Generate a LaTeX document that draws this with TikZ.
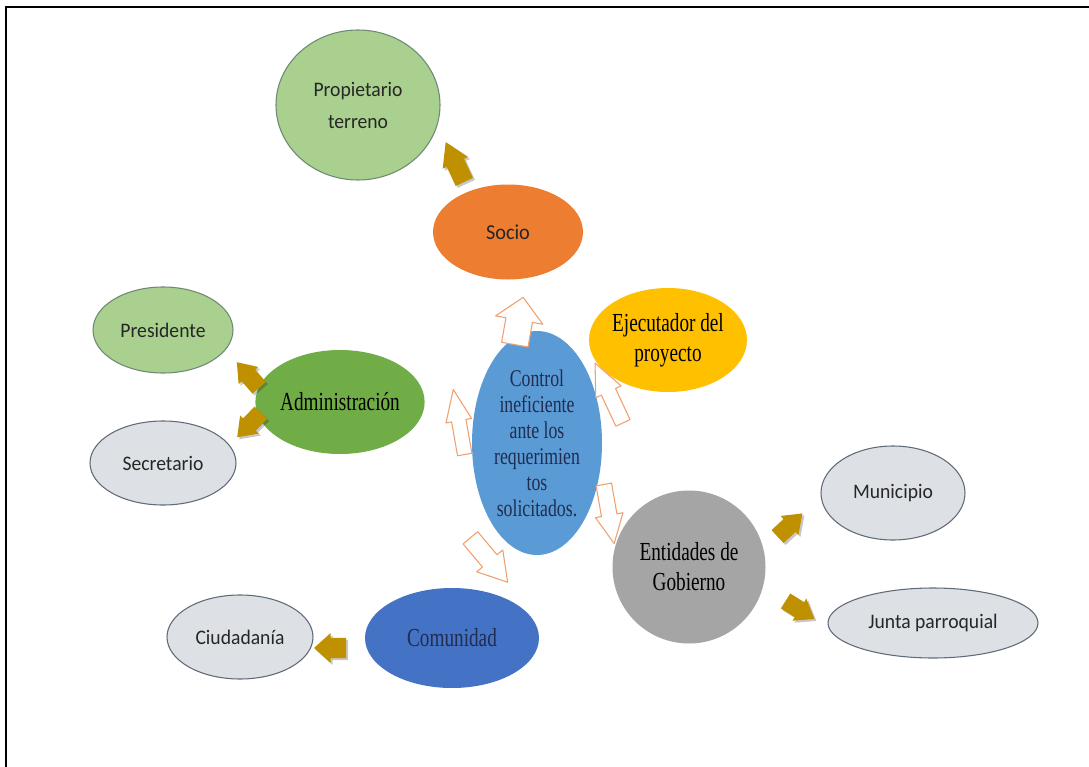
\documentclass[tikz,border=0pt]{standalone}
\usepackage{fontspec}
\usetikzlibrary{shapes.geometric}
\setmainfont{Liberation Serif}
\newfontfamily\serifc[FakeStretch=0.74]{Liberation Serif}
\newfontfamily\sansc[FakeStretch=0.95]{Carlito}
\definecolor{lgreen}{HTML}{A9D08E}
\definecolor{lgray}{HTML}{DDE1E6}
\definecolor{rimgray}{HTML}{5F6B78}
\definecolor{rimgreen}{HTML}{6E8A72}
\definecolor{socio}{HTML}{ED7D31}
\definecolor{ejec}{HTML}{FFC000}
\definecolor{ctrl}{HTML}{5B9BD5}
\definecolor{admin}{HTML}{70AD47}
\definecolor{gob}{HTML}{A5A5A5}
\definecolor{comun}{HTML}{4472C4}
\definecolor{gold}{HTML}{BF9000}
\definecolor{peach}{HTML}{F0A070}
\definecolor{navy}{HTML}{1F2D4F}
\tikzset{
  bubble/.style={ellipse, inner sep=0pt, align=center},
  leafgreen/.style={bubble, fill=lgreen, draw=rimgreen, line width=0.8pt,
    font=\sansc\fontsize{15.5}{24}\selectfont, text=black!85},
  leafgray/.style={bubble, fill=lgray, draw=rimgray, line width=0.8pt,
    font=\sansc\fontsize{15.5}{24}\selectfont, text=black!85},
  mainbubble/.style={bubble, font=\serifc\fontsize{19.5}{22.5}\selectfont, text=black},
  blockarr/.pic={
    \path[pic actions] (-0.5,-0.28) -- (0.02,-0.28) -- (0.02,-0.5) -- (0.5,0)
      -- (0.02,0.5) -- (0.02,0.28) -- (-0.5,0.28) -- cycle;
  },
  stubarr/.pic={
    \path[pic actions] (-0.5,-0.34) -- (-0.02,-0.34) -- (-0.02,-0.5) -- (0.5,0)
      -- (-0.02,0.5) -- (-0.02,0.34) -- (-0.5,0.34) -- cycle;
  },
  goldarr/.style={fill=gold},
  goldshadow/.style={fill=black, opacity=0.22},
  hollowarr/.style={draw=peach, fill=white, line width=0.8pt, line join=round},
}
\begin{document}
\begin{tikzpicture}[x=0.75pt, y=-0.75pt]
  \useasboundingbox (0,0) rectangle (1089,767);
  \fill[white] (0,0) rectangle (1089,767);
  % page frame
  \draw[line width=1.6pt] (6,767) -- (6,7) -- (1089,7);

  % central node and first ring
  \node[mainbubble, fill=ctrl, minimum width=130*0.75pt, minimum height=224*0.75pt,
        font=\serifc\fontsize{18}{19.5}\selectfont, text=navy] (ctrl) at (537,443)
        {Control\\ineficiente\\ante los\\requerimien\\tos\\solicitados.};
  \node[bubble, fill=socio, minimum width=150*0.75pt, minimum height=95*0.75pt,
        font=\sansc\fontsize{16}{20}\selectfont, text=black!85] (socio) at (508,232) {Socio};
  \node[mainbubble, fill=ejec, minimum width=155*0.75pt, minimum height=104*0.75pt]
        (ejec) at (668,340) {Ejecutador del\\proyecto};
  \node[mainbubble, fill=admin, minimum width=150*0.75pt, minimum height=104*0.75pt]
        (admin) at (340,402) {Administración};
  \node[mainbubble, circle, fill=gob, minimum size=153*0.75pt]
        (gob) at (689,567) {Entidades de\\Gobierno};
  \node[mainbubble, fill=comun, minimum width=174*0.75pt, minimum height=100*0.75pt,
        text=navy] (comun) at (452,638) {Comunidad};

  % outer ring
  \node[leafgreen, minimum width=164*0.75pt, minimum height=150*0.75pt]
        (prop) at (358,105) {Propietario\\terreno};
  \node[leafgreen, minimum width=140*0.75pt, minimum height=86*0.75pt]
        (pres) at (163,330) {Presidente};
  \node[leafgray, minimum width=146*0.75pt, minimum height=84*0.75pt]
        (secr) at (163,463) {Secretario};
  \node[leafgray, minimum width=144*0.75pt, minimum height=94*0.75pt]
        (muni) at (893,493) {Municipio};
  \node[leafgray, minimum width=210*0.75pt, minimum height=70*0.75pt]
        (junta) at (933,623) {Junta parroquial};
  \node[leafgray, minimum width=146*0.75pt, minimum height=84*0.75pt]
        (ciud) at (240,637) {Ciudadanía};

  % hollow arrows leaving the central node
  \pic[hollowarr, rotate=80,  xscale=48, yscale=48] at (519,321) {blockarr};
  \pic[hollowarr, rotate=100, xscale=66, yscale=26] at (459,422) {blockarr};
  \pic[hollowarr, rotate=115, xscale=66, yscale=28] at (609,393) {blockarr};
  \pic[hollowarr, rotate=-80, xscale=60, yscale=28] at (609,514) {blockarr};
  \pic[hollowarr, rotate=-50, xscale=58, yscale=34] at (489,560) {blockarr};

  % gold arrows towards the outer ring
  \foreach \px/\py/\ang/\len/\wd in {455/162/115/44/28, 248/375/131/34/26, 249/425/226/34/26,
                                 790/525/43/34/26, 800/610/-32/34/26, 330/648/180/32/30} {
    \pic[goldshadow, rotate=\ang, xscale=\len, yscale=\wd] at (\px+2,\py+2) {stubarr};
    \pic[goldarr, rotate=\ang, xscale=\len, yscale=\wd] at (\px,\py) {stubarr};
  }
\end{tikzpicture}
\end{document}
